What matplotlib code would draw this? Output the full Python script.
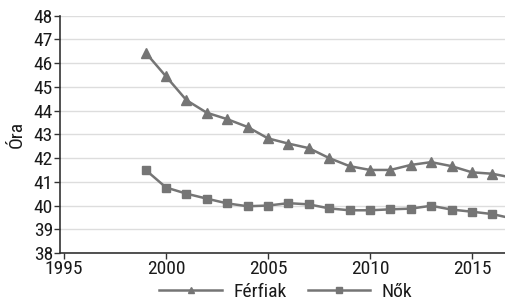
import matplotlib
matplotlib.use("Agg")
import matplotlib.pyplot as plt

years = list(range(1999, 2018))
ferfiak = [46.44, 45.44, 44.44, 43.91, 43.64, 43.31, 42.83, 42.61, 42.42, 42.0,
           41.66, 41.5, 41.5, 41.71, 41.83, 41.66, 41.4, 41.34, 41.17]
nok = [41.5, 40.76, 40.5, 40.29, 40.09, 39.97, 40.0, 40.1, 40.05, 39.88,
       39.8, 39.8, 39.84, 39.87, 39.99, 39.83, 39.74, 39.64, 39.45]
xticks = [1995, 2000, 2005, 2010, 2015]
yticks = list(range(38, 49))

plt.rcParams['font.family'] = ['Roboto Condensed', 'DejaVu Sans']

fig = plt.figure(figsize=(5.06, 3.04), dpi=100)
ax = fig.add_axes([60/506, 1-253/304, 1-60/506, (253-15.7)/304])

col = '#757575'
ax.plot(years, ferfiak, color=col, lw=1.8, marker='^', ms=6.5, label='Férfiak')
ax.plot(years, nok, color=col, lw=1.8, marker='s', ms=5.5, label='Nők')

ax.set_xlim(1994.8, 2016.67)
ax.set_ylim(38, 48)
ax.set_xticks(xticks)
ax.set_yticks(yticks)
ax.yaxis.grid(True, color='#dddddd', lw=1)
ax.set_axisbelow(True)
for s in ['top', 'right']:
    ax.spines[s].set_visible(False)
for s in ['left', 'bottom']:
    ax.spines[s].set_color('#333333')
    ax.spines[s].set_linewidth(1.2)
ax.tick_params(axis='both', labelsize=14, length=4, width=1, color='#333333', pad=1, labelcolor='#1a1a1a')
ax.set_ylabel('Óra', fontsize=14, labelpad=6, color='#1a1a1a')

fig.legend(loc='center', bbox_to_anchor=(286/506, 1-292/304), ncol=2, frameon=False,
           fontsize=14, handlelength=3.2, columnspacing=1.1, handletextpad=0.6, markerscale=0.7,
           labelcolor='#1a1a1a')
fig.savefig('out.png', dpi=100)
